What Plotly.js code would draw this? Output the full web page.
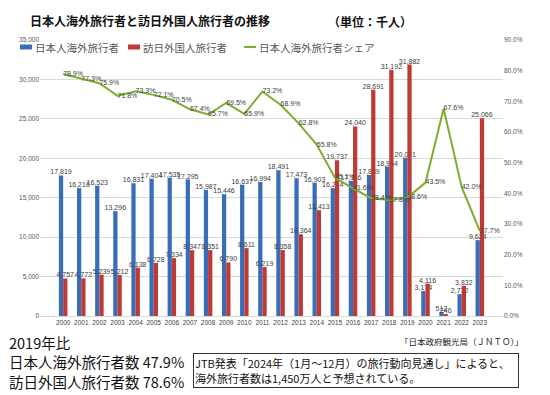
<!DOCTYPE html>
<html>
<head>
<meta charset="utf-8">
<script src="https://cdn.plot.ly/plotly-3.0.1.min.js"></script>
<style>
html,body{margin:0;padding:0;background:#fff;}
#chart{width:550px;height:395px;}
</style>
</head>
<body>
<div id="chart"></div>
<script>
const years = ["2000","2001","2002","2003","2004","2005","2006","2007","2008","2009","2010","2011","2012","2013","2014","2015","2016","2017","2018","2019","2020","2021","2022","2023"];
const outbound = [17819,16216,16523,13296,16831,17404,17535,17295,15987,15446,16637,16994,18491,17473,16903,16214,17116,17889,18954,20081,3174,512,2772,9624];
const inbound = [4757,4772,5239,5212,6138,6728,7334,8347,8351,6790,8611,6219,8358,10364,13413,19737,24040,28691,31192,31882,4116,246,3832,25066];
const share = [78.9,77.3,75.9,71.8,73.3,72.1,70.5,67.4,65.7,69.5,65.9,73.2,68.9,62.8,55.8,45.1,41.6,38.4,37.8,38.6,43.5,67.6,42.0,27.7];

const seriesNames = ["日本人海外旅行者","訪日外国人旅行者","日本人海外旅行者シェア"];
const seriesColors = ["#3A6DB8","#BE3A34","#7DAE2C"];
const chartTitle = "日本人海外旅行者と訪日外国人旅行者の推移";
const unitText = "（単位：千人）";
const sourceText = "「日本政府観光局（ＪＮＴＯ）」";
const compareLines = ["2019年比","日本人海外旅行者数 47.9%","訪日外国人旅行者数 78.6%"];
const noteText = "JTB発表「2024年（1月～12月）の旅行動向見通し」によると、<br>海外旅行者数は1,450万人と予想されている。";

const W = 550, H = 395, L = 40, R = 47, T = 40, B = 79;
const pw = W - L - R, ph = H - T - B;
const px = x => (x - L) / pw;
const py = y => (H - B - y) / ph;

const numFont = "Liberation Sans, Arial, sans-serif";
const labelFont = {family: numFont, size: 7, color: "#404040"};
const jp = "Noto Sans CJK JP, sans-serif";

const traces = [
  {type: "bar", name: seriesNames[0], x: years, y: outbound,
   marker: {color: seriesColors[0]}, texttemplate: "%{y:,}", textposition: "outside",
   constraintext: "none", cliponaxis: false, textfont: labelFont, hoverinfo: "skip"},
  {type: "bar", name: seriesNames[1], x: years, y: inbound,
   marker: {color: seriesColors[1]}, texttemplate: "%{y:,}", textposition: "outside",
   constraintext: "none", cliponaxis: false, textfont: labelFont, hoverinfo: "skip"},
  {type: "scatter", mode: "lines+text", name: seriesNames[2], x: years, y: share, yaxis: "y2",
   line: {color: seriesColors[2], width: 2}, texttemplate: "%{y:.1f}%", textposition: "middle right",
   cliponaxis: false, textfont: labelFont, hoverinfo: "skip"}
];

// custom legend (pixel positions converted to paper coordinates)
const legendItems = [
  {kind: "rect", x0: 20, x1: 32, tx: 33},
  {kind: "rect", x0: 128, x1: 140, tx: 141},
  {kind: "line", x0: 244, x1: 256, tx: 257}
];
const legY = 47;
const shapes = [];
const annotations = [];
legendItems.forEach((it, i) => {
  if (it.kind === "rect") {
    shapes.push({type: "rect", xref: "paper", yref: "paper", x0: px(it.x0), x1: px(it.x1),
                 y0: py(legY + 2.5), y1: py(legY - 2.5), fillcolor: seriesColors[i], line: {width: 0}});
  } else {
    shapes.push({type: "line", xref: "paper", yref: "paper", x0: px(it.x0), x1: px(it.x1),
                 y0: py(legY), y1: py(legY), line: {color: seriesColors[i], width: 2}});
  }
  annotations.push({text: seriesNames[i], xref: "paper", yref: "paper", x: px(it.tx), y: py(legY),
                    xanchor: "left", yanchor: "middle", showarrow: false,
                    font: {family: jp, size: 10.5, color: "#595959"}});
});

annotations.push(
  {text: unitText, xref: "paper", yref: "paper", x: px(326), y: py(22), xanchor: "left", yanchor: "middle",
   showarrow: false, font: {family: jp, size: 12, color: "#111", weight: "bold"}},
  {text: sourceText, xref: "paper", yref: "paper", x: px(398), y: py(341), xanchor: "left", yanchor: "middle",
   showarrow: false, font: {family: jp, size: 8.5, color: "#222"}},
  {text: compareLines[0], xref: "paper", yref: "paper", x: px(7), y: py(342), xanchor: "left", yanchor: "middle",
   showarrow: false, font: {family: jp, size: 14.5, color: "#111"}},
  {text: compareLines[1], xref: "paper", yref: "paper", x: px(7), y: py(361), xanchor: "left", yanchor: "middle",
   showarrow: false, font: {family: jp, size: 14.5, color: "#111"}},
  {text: compareLines[2], xref: "paper", yref: "paper", x: px(7), y: py(381), xanchor: "left", yanchor: "middle",
   showarrow: false, font: {family: jp, size: 14.5, color: "#111"}},
  {text: noteText, xref: "paper", yref: "paper", x: px(193), y: py(370.5), xanchor: "left", yanchor: "middle",
   showarrow: false, align: "left", width: 322, height: 31, bordercolor: "#333", borderwidth: 1, borderpad: 1,
   valign: "middle", font: {family: jp, size: 11, color: "#111"}}
);

const layout = {
  width: W, height: H,
  margin: {l: L, r: R, t: T, b: B, pad: 0},
  paper_bgcolor: "#fff", plot_bgcolor: "#fff",
  font: {family: jp, color: "#595959"},
  barmode: "group", bargap: 0.53, bargroupgap: 0,
  showlegend: false,
  title: {text: chartTitle, x: 30 / W, xanchor: "left", xref: "container", y: 1 - 22 / H, yanchor: "middle",
          yref: "container", font: {family: jp, size: 12, color: "#111", weight: "bold"}},
  xaxis: {type: "category", showgrid: false, showline: true, linecolor: "#D9D9D9", ticks: "",
          tickfont: {family: numFont, size: 6.5, color: "#404040"}, fixedrange: true},
  yaxis: {range: [0, 35000], dtick: 5000, tickformat: ",d", showgrid: true, gridcolor: "#D9D9D9",
          zeroline: false, showline: false, ticks: "",
          tickfont: {family: numFont, size: 6.5, color: "#595959"}, fixedrange: true},
  yaxis2: {overlaying: "y", side: "right", range: [0, 90], dtick: 10, tickformat: ".1f", ticksuffix: "%",
           showgrid: false, zeroline: false, showline: false, ticks: "",
           tickfont: {family: numFont, size: 6.5, color: "#595959"}, fixedrange: true},
  shapes: shapes,
  annotations: annotations
};

Plotly.newPlot("chart", traces, layout, {displayModeBar: false, staticPlot: true});
</script>
</body>
</html>
